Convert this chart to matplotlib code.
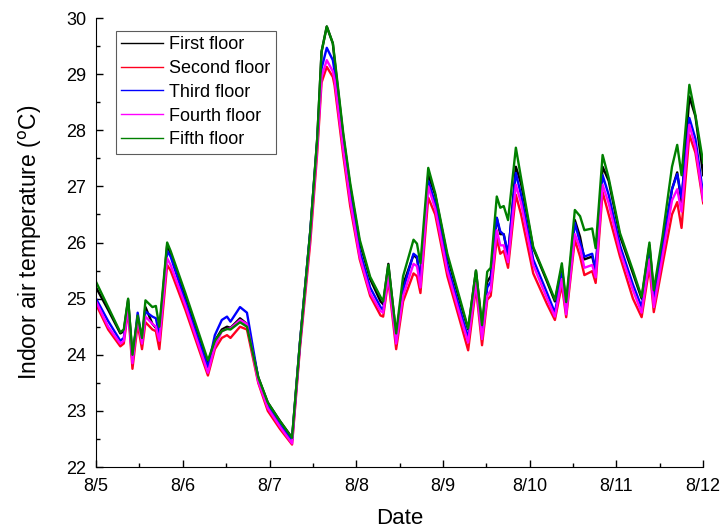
import numpy as np
import matplotlib
matplotlib.use('Agg')
import matplotlib.pyplot as plt
from matplotlib.ticker import MultipleLocator

plt.rcParams['font.family'] = ['Liberation Sans', 'DejaVu Sans']

# time in days counted from 8/5 00:00
t = [0.00, 0.14, 0.28, 0.32, 0.37, 0.42, 0.48, 0.53, 0.57, 0.65,
     0.69, 0.73, 0.82, 0.86, 1.03, 1.29, 1.37, 1.45, 1.51, 1.55,
     1.66, 1.74, 1.87, 1.98, 2.12, 2.26, 2.35, 2.47, 2.55, 2.60,
     2.66, 2.73, 2.75, 2.85, 2.93, 3.04, 3.16, 3.28, 3.31, 3.37,
     3.46, 3.54, 3.66, 3.70, 3.74, 3.83, 3.91, 4.05, 4.20, 4.29,
     4.38, 4.45, 4.51, 4.55, 4.62, 4.66, 4.70, 4.75, 4.84, 4.90,
     5.04, 5.20, 5.29, 5.37, 5.42, 5.52, 5.58, 5.63, 5.72, 5.76,
     5.84, 5.91, 6.04, 6.19, 6.29, 6.38, 6.43, 6.53, 6.64, 6.70,
     6.75, 6.84, 6.91, 7.00]

first = [25.20, 24.80, 24.38, 24.42, 24.98, 23.98, 24.65, 24.28, 24.85, 24.55,
         24.48, 24.40, 25.95, 25.80, 25.05, 23.85, 24.25, 24.45, 24.50, 24.48,
         24.65, 24.55, 23.60, 23.15, 22.82, 22.52, 24.20, 26.20, 27.85, 29.40,
         29.85, 29.55, 29.25, 27.90, 27.00, 26.00, 25.35, 24.95, 24.90, 25.62,
         24.35, 25.25, 25.78, 25.72, 25.35, 27.20, 26.85, 25.75, 24.92, 24.45,
         25.50, 24.50, 25.30, 25.40, 26.44, 26.15, 26.15, 25.75, 27.35, 27.05,
         25.90, 25.30, 24.95, 25.55, 24.90, 26.40, 26.10, 25.70, 25.75, 25.50,
         27.35, 27.10, 26.12, 25.45, 25.00, 25.95, 25.10, 25.95, 26.95, 27.25,
         26.70, 28.60, 28.25, 27.20]

second = [24.90, 24.45, 24.15, 24.20, 24.80, 23.75, 24.55, 24.10, 24.58, 24.45,
          24.42, 24.10, 25.60, 25.50, 24.80, 23.63, 24.10, 24.30, 24.35, 24.30,
          24.50, 24.45, 23.50, 23.00, 22.68, 22.40, 24.10, 26.00, 27.60, 28.85,
          29.13, 28.95, 28.80, 27.55, 26.65, 25.70, 25.05, 24.70, 24.68, 25.33,
          24.10, 24.95, 25.45, 25.40, 25.10, 26.80, 26.50, 25.40, 24.58, 24.08,
          25.20, 24.17, 24.98, 25.05, 26.08, 25.80, 25.85, 25.55, 26.85, 26.50,
          25.45, 24.90, 24.62, 25.25, 24.67, 26.05, 25.75, 25.42, 25.49, 25.28,
          26.90, 26.50, 25.75, 25.00, 24.67, 25.57, 24.76, 25.60, 26.50, 26.72,
          26.26, 27.92, 27.60, 26.70]

third = [25.00, 24.60, 24.25, 24.30, 24.90, 23.90, 24.75, 24.25, 24.77, 24.68,
         24.65, 24.35, 25.85, 25.75, 24.95, 23.78, 24.35, 24.62, 24.68, 24.59,
         24.85, 24.75, 23.58, 23.10, 22.75, 22.48, 24.20, 26.20, 27.80, 29.10,
         29.47, 29.25, 29.05, 27.75, 26.85, 25.85, 25.20, 24.85, 24.80, 25.50,
         24.25, 25.15, 25.80, 25.75, 25.30, 27.10, 26.70, 25.60, 24.78, 24.30,
         25.35, 24.35, 25.20, 25.30, 26.44, 26.20, 26.14, 25.80, 27.24, 26.85,
         25.70, 25.10, 24.75, 25.45, 24.80, 26.35, 26.00, 25.75, 25.80, 25.50,
         27.20, 26.85, 25.95, 25.25, 24.85, 25.80, 24.95, 25.90, 26.95, 27.22,
         26.80, 28.22, 27.85, 26.85]

fourth = [24.95, 24.50, 24.20, 24.25, 24.85, 23.85, 24.65, 24.20, 24.68, 24.55,
          24.50, 24.25, 25.72, 25.60, 24.88, 23.68, 24.15, 24.42, 24.46, 24.47,
          24.62, 24.55, 23.52, 23.05, 22.72, 22.42, 24.15, 26.10, 27.70, 28.95,
          29.25, 29.05, 28.90, 27.65, 26.75, 25.75, 25.10, 24.78, 24.75, 25.40,
          24.20, 25.05, 25.62, 25.58, 25.20, 27.00, 26.60, 25.50, 24.68, 24.22,
          25.28, 24.28, 25.05, 25.15, 26.22, 25.95, 25.95, 25.65, 27.03, 26.70,
          25.60, 25.00, 24.68, 25.35, 24.72, 26.15, 25.90, 25.55, 25.60, 25.38,
          27.03, 26.70, 25.85, 25.15, 24.75, 25.70, 24.85, 25.75, 26.75, 26.95,
          26.55, 28.10, 27.70, 26.75]

fifth = [25.30, 24.85, 24.40, 24.45, 25.00, 24.00, 24.70, 24.30, 24.97, 24.85,
         24.87, 24.50, 26.00, 25.85, 25.10, 23.90, 24.25, 24.42, 24.46, 24.45,
         24.58, 24.50, 23.60, 23.15, 22.82, 22.52, 24.20, 26.20, 27.85, 29.40,
         29.85, 29.55, 29.30, 27.95, 27.06, 26.05, 25.39, 25.03, 24.95, 25.60,
         24.38, 25.40, 26.05, 25.98, 25.63, 27.33, 26.88, 25.80, 24.97, 24.47,
         25.50, 24.53, 25.48, 25.55, 26.82, 26.62, 26.65, 26.40, 27.69, 27.15,
         25.92, 25.33, 24.98, 25.63, 24.94, 26.58, 26.47, 26.22, 26.25, 25.90,
         27.56, 27.15, 26.17, 25.50, 25.03, 26.00, 25.15, 26.10, 27.35, 27.74,
         27.20, 28.81, 28.27, 27.42]

date_labels = ['8/5', '8/6', '8/7', '8/8', '8/9', '8/10', '8/11', '8/12']

fig = plt.figure(figsize=(7.22, 5.31), dpi=100)
ax = fig.add_axes([0.133, 0.1205, 0.841, 0.8455])

ax.plot(t, first, color='black', lw=1.7, label='First floor')
ax.plot(t, second, color='#ff0020', lw=1.7, label='Second floor')
ax.plot(t, third, color='#0000ff', lw=1.7, label='Third floor')
ax.plot(t, fourth, color='#ff00ff', lw=1.7, label='Fourth floor')
ax.plot(t, fifth, color='#008000', lw=1.7, label='Fifth floor')

ax.set_xlim(0, 7)
ax.set_ylim(22, 30)
ax.set_xticks(range(8))
ax.set_xticklabels(date_labels)
ax.xaxis.set_minor_locator(MultipleLocator(0.5))
ax.yaxis.set_major_locator(MultipleLocator(1))
ax.yaxis.set_minor_locator(MultipleLocator(0.5))
ax.tick_params(which='both', direction='in', labelsize=13, width=1)
ax.tick_params(which='major', length=5)
ax.tick_params(axis='x', which='major', pad=8)
ax.tick_params(axis='y', which='major', pad=7)
ax.tick_params(which='minor', length=3)

ax.spines['top'].set_visible(False)
ax.spines['right'].set_visible(False)

ax.set_xlabel('Date', fontsize=16, labelpad=9)
ax.set_ylabel(r'Indoor air temperature ($^{\mathrm{o}}$C)', fontsize=16.5, labelpad=16)

leg = ax.legend(loc='upper left', bbox_to_anchor=(0.033, 0.972), fontsize=13,
                frameon=True, fancybox=False, edgecolor='#333333',
                handlelength=2.3, handletextpad=0.35, labelspacing=0.38,
                borderpad=0.3, borderaxespad=0)
for h in leg.get_lines():
    h.set_linewidth(1.0)
leg.get_frame().set_linewidth(0.8)

fig.savefig('out.png', dpi=100)
